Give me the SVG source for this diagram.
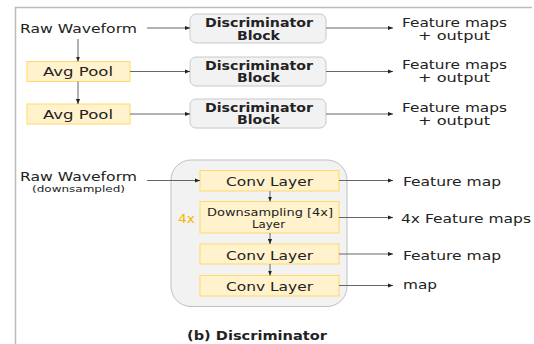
<svg xmlns="http://www.w3.org/2000/svg" width="534" height="344" viewBox="0 0 534 344">
<style>
text{font-family:"DejaVu Sans","Noto Sans",sans-serif;fill:#222;}
.t{font-size:13px;}
.b{font-size:12px;font-weight:bold;}
.s{font-size:9.5px;}
.blk{fill:#f2f2f2;stroke:#c8c8c8;stroke-width:1;}
.y{fill:#fff2cc;stroke:#ffd966;stroke-width:1;}
.c{stroke:#666;stroke-width:1;fill:none;marker-end:url(#a);}
</style>
<defs>
<marker id="a" viewBox="0 0 6 6" refX="6" refY="3" markerWidth="5" markerHeight="5" orient="auto" markerUnits="userSpaceOnUse"><path d="M0,0.5L6,3L0,5.5z" fill="#222"/></marker>
</defs>
<rect width="534" height="344" fill="#fff"/>
<path d="M15.5,344V7.5H532" stroke="#bbb" stroke-width="1.5" fill="none"/>
<g id="rw1"><text class="t" x="20" y="33" textLength="117" lengthAdjust="spacingAndGlyphs">Raw Waveform</text></g>
<g id="ap1"><rect class="y" x="27" y="61.5" width="103" height="20"/><text class="t" x="43" y="76" textLength="70" lengthAdjust="spacingAndGlyphs">Avg Pool</text></g>
<g id="ap2"><rect class="y" x="27" y="104" width="103" height="20"/><text class="t" x="43" y="118.5" textLength="70" lengthAdjust="spacingAndGlyphs">Avg Pool</text></g>
<g id="db1"><rect class="blk" x="190" y="14" width="136" height="29" rx="6"/><text class="b" x="205" y="27" textLength="108" lengthAdjust="spacingAndGlyphs">Discriminator</text><text class="b" x="237" y="39.5" textLength="43" lengthAdjust="spacingAndGlyphs">Block</text></g>
<g id="db2"><rect class="blk" x="190" y="57" width="136" height="29" rx="6"/><text class="b" x="205" y="69.5" textLength="108" lengthAdjust="spacingAndGlyphs">Discriminator</text><text class="b" x="237" y="82" textLength="43" lengthAdjust="spacingAndGlyphs">Block</text></g>
<g id="db3"><rect class="blk" x="190" y="99" width="136" height="29" rx="6"/><text class="b" x="205" y="111.5" textLength="108" lengthAdjust="spacingAndGlyphs">Discriminator</text><text class="b" x="237" y="124" textLength="43" lengthAdjust="spacingAndGlyphs">Block</text></g>
<g id="fm1"><text class="t" x="402" y="26.5" textLength="105" lengthAdjust="spacingAndGlyphs">Feature maps</text><text class="t" x="418" y="40" textLength="72" lengthAdjust="spacingAndGlyphs">+ output</text></g>
<g id="fm2"><text class="t" x="402" y="68.5" textLength="105" lengthAdjust="spacingAndGlyphs">Feature maps</text><text class="t" x="418" y="82" textLength="72" lengthAdjust="spacingAndGlyphs">+ output</text></g>
<g id="fm3"><text class="t" x="402" y="111.5" textLength="105" lengthAdjust="spacingAndGlyphs">Feature maps</text><text class="t" x="418" y="125" textLength="72" lengthAdjust="spacingAndGlyphs">+ output</text></g>
<g id="rw2"><text class="t" x="20" y="181" textLength="117" lengthAdjust="spacingAndGlyphs">Raw Waveform</text><text class="s" x="32" y="191.5" textLength="93" lengthAdjust="spacingAndGlyphs">(downsampled)</text></g>
<g id="disc"><rect x="171" y="160" width="176" height="146.5" rx="20" fill="#f2f2f2" stroke="#c0c0c0" stroke-width="1"/>
<text x="178" y="223" textLength="17" lengthAdjust="spacingAndGlyphs" style="font-size:12px;fill:#f5b800">4x</text></g>
<g id="cv1"><rect class="y" x="200" y="170.5" width="139" height="20.5"/><text class="t" x="226" y="186" textLength="87" lengthAdjust="spacingAndGlyphs">Conv Layer</text></g>
<g id="ds"><rect class="y" x="200" y="201.5" width="139" height="31.5"/><text x="207" y="215.5" textLength="126" lengthAdjust="spacingAndGlyphs" style="font-size:11px">Downsampling [4x]</text><text x="252" y="228" textLength="33" lengthAdjust="spacingAndGlyphs" style="font-size:11px">Layer</text></g>
<g id="cv2"><rect class="y" x="200" y="244" width="139" height="20"/><text class="t" x="226" y="259.5" textLength="87" lengthAdjust="spacingAndGlyphs">Conv Layer</text></g>
<g id="cv3"><rect class="y" x="200" y="275.5" width="139" height="20.5"/><text class="t" x="226" y="290.5" textLength="87" lengthAdjust="spacingAndGlyphs">Conv Layer</text></g>
<g id="o1"><text class="t" x="403" y="186" textLength="98" lengthAdjust="spacingAndGlyphs">Feature map</text></g>
<g id="o2"><text class="t" x="401" y="222.5" textLength="130" lengthAdjust="spacingAndGlyphs">4x Feature maps</text></g>
<g id="o3"><text class="t" x="403" y="259.5" textLength="98" lengthAdjust="spacingAndGlyphs">Feature map</text></g>
<g id="o4"><text class="t" x="403" y="289" textLength="34" lengthAdjust="spacingAndGlyphs">map</text></g>
<g id="cap"><text x="187" y="340" textLength="140" lengthAdjust="spacingAndGlyphs" style="font-size:12px;font-weight:bold">(b)  Discriminator</text></g>
<g id="connectors">
<path class="c" d="M147,28H190"/>
<path class="c" d="M326,28H393"/>
<path class="c" d="M78,39V61.5"/>
<path class="c" d="M78,81.5V104"/>
<path class="c" d="M130,71.5H190"/>
<path class="c" d="M326,71.5H393"/>
<path class="c" d="M130,114H190"/>
<path class="c" d="M326,114H393"/>
<path class="c" d="M147,180.5H200"/>
<path class="c" d="M339,180.5H393"/>
<path class="c" d="M339,217.5H393"/>
<path class="c" d="M339,254H393"/>
<path class="c" d="M339,285.5H393"/>
<path class="c" d="M270,191V201.5"/>
<path class="c" d="M270,233V244"/>
<path class="c" d="M270,264V275.5"/>
</g>
</svg>
